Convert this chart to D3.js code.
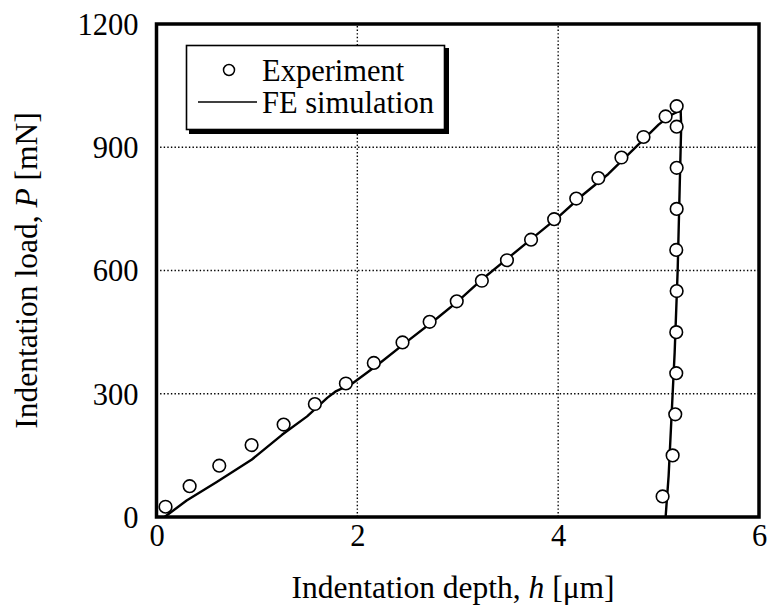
<!DOCTYPE html>
<html><head><meta charset="utf-8">
<script src="https://cdn.jsdelivr.net/npm/d3@7"></script>
<style>body{margin:0;background:#fff}svg{display:block}text{font-family:"Liberation Serif","Times New Roman",serif;fill:#000}</style>
</head><body><svg id="c" width="769" height="612"></svg>
<script>
// Experiment: loading then unloading [depth µm, load mN]
const expDepth = [0.09,0.33,0.625,0.947,1.266,1.577,1.886,2.164,2.45,2.72,2.99,3.24,3.49,3.73,3.96,4.18,4.40,4.63,4.85,5.07,5.18,
                  5.18,5.18,5.18,5.176,5.18,5.176,5.176,5.166,5.14,5.04];
const expLoad  = [25,75,125,175,225,275,325,375,425,475,525,575,625,675,725,775,825,875,925,975,1000,
                  950,850,750,650,550,450,350,250,150,50];
// FE simulation curve
const feDepth = [0.08,0.3,0.6,0.95,1.25,1.5,1.7,1.78,1.95,2.2,2.5,2.8,3.0,3.25,3.5,3.75,4.0,4.25,4.5,4.75,5.0,5.12,5.22,5.225,5.21,5.19,5.16,5.13,5.1,5.07];
const feLoad  = [0,40,85,140,200,245,290,305,325,370,428,485,525,580,630,680,730,785,835,895,955,978,990,950,800,600,400,250,100,0];
const xTicks = [0,2,4,6];
const yTicks = [0,300,600,900,1200];
const legendLabels = ["Experiment","FE simulation"];

const svg = d3.select("#c");
const x = d3.scaleLinear().domain([0,6]).range([156.5,759]);
const y = d3.scaleLinear().domain([0,1200]).range([517,24]);
const FS = 30.5, TS = 31.5;

// grid
const g = svg.append("g");
g.selectAll("line.gx").data(xTicks.slice(1,-1)).join("line")
  .attr("x1",d=>x(d)).attr("x2",d=>x(d)).attr("y1",y(0)).attr("y2",y(1200))
  .attr("stroke","#000").attr("stroke-width",1.4).attr("stroke-dasharray","1.4,2.2");
g.selectAll("line.gy").data(yTicks.slice(1,-1)).join("line")
  .attr("y1",d=>y(d)).attr("y2",d=>y(d)).attr("x1",x(0)).attr("x2",x(6))
  .attr("stroke","#000").attr("stroke-width",1.4).attr("stroke-dasharray","1.4,2.2");

// axes (labels via d3 axes)
const xAxis = svg.append("g").attr("transform",`translate(0,${y(0)})`)
  .call(d3.axisBottom(x).tickValues(xTicks).tickSize(0).tickPadding(7).tickFormat(d3.format("d")));
const yAxis = svg.append("g").attr("transform",`translate(${x(0)},0)`)
  .call(d3.axisLeft(y).tickValues(yTicks).tickSize(0).tickPadding(18).tickFormat(d3.format("d")));
[xAxis,yAxis].forEach(a=>{a.select(".domain").remove();a.selectAll("text").style("font-size",FS+"px").style("font-family",'"Liberation Serif",serif');});
yAxis.selectAll("text").attr("dy","0.34em");

// FE line
const line = d3.line().x((d,i)=>x(feDepth[i])).y((d,i)=>y(feLoad[i])).curve(d3.curveLinear);
svg.append("path").datum(feDepth).attr("d",line).attr("fill","none").attr("stroke","#000").attr("stroke-width",2.4).attr("stroke-linejoin","round");

// experiment circles
svg.append("g").selectAll("circle").data(expDepth).join("circle")
  .attr("cx",(d,i)=>x(expDepth[i])).attr("cy",(d,i)=>y(expLoad[i])).attr("r",6.3)
  .attr("fill","#fff").attr("stroke","#000").attr("stroke-width",1.6);

// frame
svg.append("rect").attr("x",x(0)).attr("y",y(1200)).attr("width",x(6)-x(0)).attr("height",y(0)-y(1200))
  .attr("fill","none").attr("stroke","#000").attr("stroke-width",3.5);

// legend
const L = svg.append("g");
L.append("rect").attr("x",189).attr("y",48).attr("width",260).attr("height",86).attr("fill","#000");
L.append("rect").attr("x",186.5).attr("y",45.5).attr("width",258).attr("height",84).attr("fill","#fff").attr("stroke","#000").attr("stroke-width",1.6);
L.append("circle").attr("cx",229).attr("cy",70).attr("r",5.5).attr("fill","#fff").attr("stroke","#000").attr("stroke-width",1.5);
L.append("line").attr("x1",198).attr("x2",257).attr("y1",102).attr("y2",102).attr("stroke","#000").attr("stroke-width",1.6);
L.selectAll("text").data(legendLabels).join("text").attr("x",262).attr("y",(d,i)=>81+i*32).style("font-size",FS+"px").text(d=>d);

// axis titles
const xt = svg.append("text").attr("x",453).attr("y",598).attr("text-anchor","middle").style("font-size",TS+"px");
xt.append("tspan").text("Indentation depth, ");
xt.append("tspan").style("font-style","italic").text("h");
xt.append("tspan").text(" [μm]");
const yt = svg.append("text").attr("transform",`translate(37,${y(600)}) rotate(-90)`).attr("text-anchor","middle").style("font-size",TS+"px");
yt.append("tspan").text("Indentation load, ");
yt.append("tspan").style("font-style","italic").text("P");
yt.append("tspan").text(" [mN]");
</script></body></html>
